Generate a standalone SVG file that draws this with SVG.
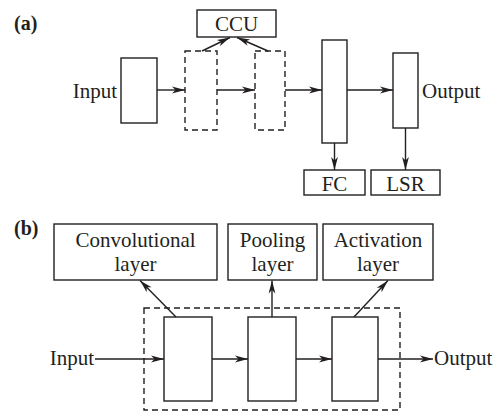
<svg xmlns="http://www.w3.org/2000/svg" width="498" height="416" viewBox="0 0 498 416">
  <defs>
    <marker id="arrow" markerUnits="userSpaceOnUse" markerWidth="16" markerHeight="10" viewBox="-14 -5 16 10" refX="0" refY="0" orient="auto">
      <path d="M-13,-3.4 L0,0 L-13,3.4 L-9.5,0 Z" fill="#231f20"/>
    </marker>
    <style>
      .box { fill: #fff; stroke: #231f20; stroke-width: 1.4; }
      .dash { fill: none; stroke: #231f20; stroke-width: 1.4; stroke-dasharray: 6 4; }
      .wire { fill: none; stroke: #231f20; stroke-width: 1.4; marker-end: url(#arrow); }
    </style>
  </defs>
  <rect width="498" height="416" fill="#fff"/>

  <g font-family="Liberation Serif, DejaVu Serif, serif" font-size="21" fill="#231f20">
    <!-- panel (a) -->
    <text x="14" y="30" font-size="20" font-weight="bold">(a)</text>
    <g id="a-ccu">
      <rect class="box" x="197" y="10" width="79" height="27"/>
      <text x="236.5" y="31" text-anchor="middle">CCU</text>
    </g>
    <g id="a-input">
      <text x="117" y="98" text-anchor="end">Input</text>
      <rect class="box" x="121" y="58" width="36" height="65"/>
    </g>
    <g id="a-conv1">
      <rect class="dash" x="185" y="51" width="32" height="79"/>
    </g>
    <g id="a-conv2">
      <rect class="dash" x="255" y="51" width="30" height="79"/>
    </g>
    <g id="a-fc-layer">
      <rect class="box" x="322" y="40" width="25" height="103"/>
    </g>
    <g id="a-out-layer">
      <rect class="box" x="393" y="53" width="25" height="75"/>
      <text x="422" y="98">Output</text>
    </g>
    <g id="a-fc">
      <rect class="box" x="304" y="170" width="61" height="25"/>
      <text x="334.5" y="191" text-anchor="middle">FC</text>
    </g>
    <g id="a-lsr">
      <rect class="box" x="371" y="170" width="69" height="25"/>
      <text x="405.5" y="191" text-anchor="middle">LSR</text>
    </g>

    <!-- panel (b) -->
    <text x="14" y="235" font-size="20" font-weight="bold">(b)</text>
    <g id="b-conv-label">
      <rect class="box" x="54" y="224" width="163" height="56"/>
      <text x="135.5" y="247" text-anchor="middle">Convolutional</text>
      <text x="135.5" y="271" text-anchor="middle">layer</text>
    </g>
    <g id="b-pool-label">
      <rect class="box" x="228" y="224" width="89" height="56"/>
      <text x="272.5" y="247" text-anchor="middle">Pooling</text>
      <text x="272.5" y="271" text-anchor="middle">layer</text>
    </g>
    <g id="b-act-label">
      <rect class="box" x="323" y="224" width="110" height="56"/>
      <text x="378" y="247" text-anchor="middle">Activation</text>
      <text x="378" y="271" text-anchor="middle">layer</text>
    </g>
    <g id="b-block">
      <rect class="dash" x="144" y="308" width="256" height="102"/>
    </g>
    <g id="b-conv">
      <rect class="box" x="164" y="317" width="48" height="84"/>
    </g>
    <g id="b-pool">
      <rect class="box" x="248" y="317" width="48" height="84"/>
    </g>
    <g id="b-act">
      <rect class="box" x="332" y="317" width="46" height="84"/>
    </g>
    <g id="b-input">
      <text x="94" y="365" text-anchor="end">Input</text>
    </g>
    <g id="b-output">
      <text x="434" y="365">Output</text>
    </g>
  </g>

  <!-- connectors -->
  <g id="connectors">
    <line class="wire" x1="157" y1="90" x2="185" y2="90"/>
    <line class="wire" x1="217" y1="90" x2="255" y2="90"/>
    <line class="wire" x1="285" y1="90" x2="322" y2="90"/>
    <line class="wire" x1="347" y1="90" x2="393" y2="90"/>
    <line class="wire" x1="202" y1="51" x2="230" y2="37.5"/>
    <line class="wire" x1="268" y1="51" x2="237" y2="37.5"/>
    <line class="wire" x1="334.5" y1="143" x2="334.5" y2="170"/>
    <line class="wire" x1="405.5" y1="128" x2="405.5" y2="170"/>

    <line class="wire" x1="95" y1="359" x2="164" y2="359"/>
    <line class="wire" x1="212" y1="359" x2="248" y2="359"/>
    <line class="wire" x1="296" y1="359" x2="332" y2="359"/>
    <line class="wire" x1="378" y1="359" x2="433" y2="359"/>
    <line class="wire" x1="176" y1="317" x2="140" y2="280.5"/>
    <line class="wire" x1="272" y1="317" x2="272" y2="280.5"/>
    <line class="wire" x1="354" y1="317" x2="388" y2="280.5"/>
  </g>
</svg>
